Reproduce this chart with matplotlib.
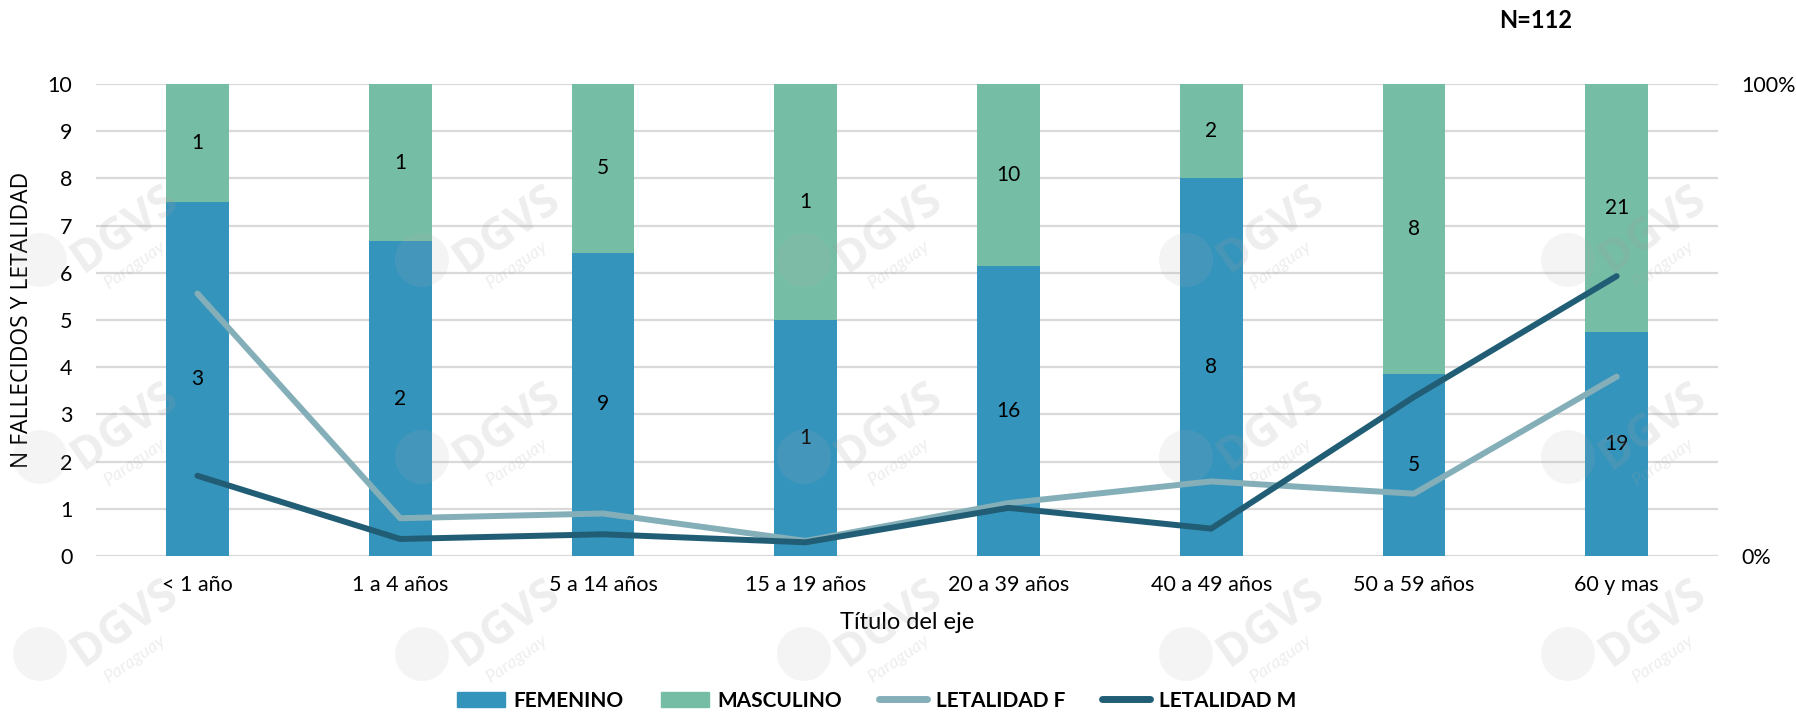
import numpy as np
import matplotlib
matplotlib.use('Agg')
import matplotlib.pyplot as plt
from matplotlib.lines import Line2D
from matplotlib.patches import Patch, Circle

plt.rcParams['font.family'] = ['Lato', 'DejaVu Sans']

grupos = ['< 1 año', '1 a 4 años', '5 a 14 años', '15 a 19 años',
          '20 a 39 años', '40 a 49 años', '50 a 59 años', '60 y mas']
fem = [3, 2, 9, 1, 16, 8, 5, 19]
masc = [1, 1, 5, 1, 10, 2, 8, 21]
let_f = [5.56, 0.80, 0.90, 0.32, 1.12, 1.58, 1.32, 3.80]
let_m = [1.70, 0.36, 0.46, 0.29, 1.02, 0.58, 3.37, 5.93]

c_fem = '#3594bc'
c_masc = '#76bda6'
c_letf = '#84afb9'
c_letm = '#215e75'

fem = np.array(fem, dtype=float)
masc = np.array(masc, dtype=float)
tot = fem + masc
fem_h = fem / tot * 10
masc_h = masc / tot * 10
x = np.arange(len(grupos))

fig = plt.figure(figsize=(17.96, 7.15), dpi=100)
ax = fig.add_axes([0.0535, 0.2224, 0.9031, 0.6601])

ax.set_ylim(0, 10)
ax.set_xlim(-0.5, 7.5)
ax.set_yticks(range(0, 11))
ax.yaxis.grid(True, color='#d9d9d9', lw=1.6, zorder=0)
ax.set_axisbelow(True)
for s in ax.spines.values():
    s.set_visible(False)
ax.tick_params(length=0, labelsize=15.5, pad=17)
ax.tick_params(axis='x', pad=14)

bw = 0.31
ax.bar(x, fem_h, bw, color=c_fem, zorder=2)
ax.bar(x, masc_h, bw, bottom=fem_h, color=c_masc, zorder=2)
for i in range(len(x)):
    ax.text(x[i], fem_h[i] / 2, '%d' % fem[i], ha='center', va='center', fontsize=15, zorder=5)
    ax.text(x[i], fem_h[i] + masc_h[i] / 2, '%d' % masc[i], ha='center', va='center', fontsize=15, zorder=5)

ax.plot(x, let_f, color=c_letf, lw=4.3, solid_capstyle='round', solid_joinstyle='round', zorder=3)
ax.plot(x, let_m, color=c_letm, lw=4.3, solid_capstyle='round', solid_joinstyle='round', zorder=4)

ax.set_xticks(x)
ax.set_xticklabels(grupos)
ax.set_xlabel('Título del eje', fontsize=17, labelpad=12)
ax.set_ylabel('N FALLECIDOS Y LETALIDAD', fontsize=16.5, family=['Open Sans', 'DejaVu Sans'], labelpad=10)

ax2 = ax.twinx()
ax2.set_ylim(0, 1)
ax2.set_yticks([0, 1])
ax2.set_yticklabels(['0%', '100%'])
ax2.tick_params(length=0, labelsize=15.5, pad=17)
for s in ax2.spines.values():
    s.set_visible(False)

fig.text(0.855, 0.971, 'N=112', fontsize=17, fontweight='bold', ha='center', va='center')

handles = [Patch(color=c_fem), Patch(color=c_masc),
           Line2D([], [], color=c_letf, lw=5, solid_capstyle='round'),
           Line2D([], [], color=c_letm, lw=5, solid_capstyle='round')]
labels = ['FEMENINO', 'MASCULINO', 'LETALIDAD F', 'LETALIDAD M']
fig.legend(handles, labels, loc='center', bbox_to_anchor=(0.488, 0.02), ncol=4,
           frameon=False, prop={'weight': 'bold', 'size': 15}, handlelength=2.3,
           handleheight=0.7, columnspacing=1.8, handletextpad=0.4)

# marca de agua DGVS
for gx in np.arange(40, 1800, 382):
    for gy in np.arange(63, 715, 197):
        if gy < 100 or gx + 160 > 1796:
            continue
        cx, cy = gx / 100, (715 - gy) / 100
        fig.patches.append(Circle((cx, cy), 0.27, transform=fig.dpi_scale_trans,
                                  facecolor='#b0b0b0', edgecolor='none', alpha=0.13,
                                  zorder=10))
        fig.text((gx + 85) / 1796, 1 - (gy - 30) / 715, 'DGVS', fontsize=32, fontweight='bold',
                 color='#a0a0a0', alpha=0.18, rotation=35, ha='center', va='center', zorder=10,
                 family=['Open Sans', 'DejaVu Sans'])
        fig.text((gx + 95) / 1796, 1 - (gy + 5) / 715, 'Paraguay', fontsize=13, style='italic',
                 color='#a0a0a0', alpha=0.18, rotation=35, ha='center', va='center', zorder=10)

fig.savefig('out.png', dpi=100)
